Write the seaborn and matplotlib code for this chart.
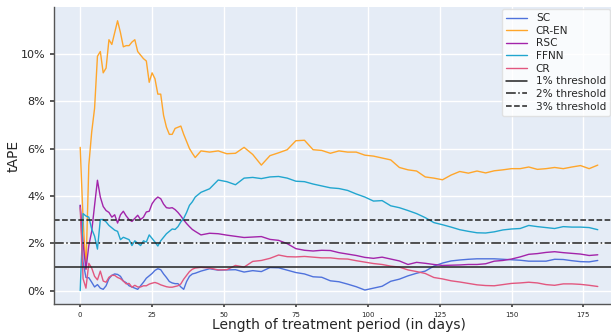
import numpy as np
import pandas as pd
import matplotlib
matplotlib.use("Agg")
import matplotlib.pyplot as plt
import seaborn as sns
from matplotlib.ticker import PercentFormatter

days = list(range(0, 41)) + list(range(42, 181, 3))

sc = [3.6, 1.2, 0.55, 0.54, 0.35, 0.15, 0.25, 0.1, 0.05, 0.2,
      0.5, 0.64, 0.7, 0.68, 0.6, 0.4, 0.33, 0.2, 0.15, 0.1,
      0.05, 0.2, 0.35, 0.52, 0.62, 0.72, 0.85, 0.92, 0.88, 0.7,
      0.55, 0.38, 0.32, 0.29, 0.29, 0.15, 0.05, 0.38, 0.6, 0.7, 0.73,
      0.82, 0.92, 0.86, 0.87, 0.88, 0.78, 0.84, 0.8, 0.97, 0.96,
      0.86, 0.76, 0.7, 0.58, 0.56, 0.41, 0.37, 0.27, 0.16, 0.02,
      0.1, 0.18, 0.39, 0.48, 0.62, 0.73, 0.82, 1.03, 1.16, 1.25,
      1.29, 1.32, 1.34, 1.34, 1.34, 1.32, 1.3, 1.28, 1.24, 1.24,
      1.24, 1.32, 1.31, 1.26, 1.22, 1.21, 1.27]

cr_en = [6.05, 3.0, 0.9, 5.3, 6.7, 7.7, 9.9, 10.1, 9.2, 9.4,
         10.6, 10.4, 10.9, 11.4, 10.9, 10.3, 10.35, 10.35, 10.5, 10.6,
         10.1, 9.95, 9.8, 9.7, 8.8, 9.2, 8.95, 8.3, 8.3, 7.4,
         6.9, 6.6, 6.6, 6.85, 6.9, 6.95, 6.6, 6.3, 6.0, 5.8, 5.62,
         5.9, 5.85, 5.9, 5.78, 5.8, 6.05, 5.75, 5.3, 5.7, 5.82,
         5.95, 6.33, 6.35, 5.95, 5.92, 5.8, 5.9, 5.85, 5.85, 5.72,
         5.68, 5.6, 5.52, 5.2, 5.1, 5.05, 4.8, 4.75, 4.68, 4.88,
         5.03, 4.96, 5.05, 4.97, 5.06, 5.1, 5.15, 5.15, 5.22, 5.12,
         5.15, 5.2, 5.15, 5.22, 5.28, 5.15, 5.3]

rsc = [3.6, 2.0, 0.9, 1.9, 2.5, 3.6, 4.66, 3.95, 3.55, 3.38,
       3.3, 3.1, 3.2, 2.85, 3.2, 3.35, 3.15, 3.0, 2.92, 3.05,
       3.18, 3.0, 3.1, 3.32, 3.35, 3.67, 3.84, 3.95, 3.88, 3.65,
       3.5, 3.48, 3.5, 3.42, 3.3, 3.15, 2.98, 2.83, 2.7, 2.58, 2.5,
       2.35, 2.42, 2.4, 2.34, 2.29, 2.24, 2.26, 2.28, 2.16, 2.12,
       1.98, 1.77, 1.7, 1.67, 1.7, 1.69, 1.6, 1.54, 1.48, 1.4,
       1.36, 1.41, 1.33, 1.25, 1.1, 1.19, 1.15, 1.1, 1.06, 1.07,
       1.08, 1.1, 1.1, 1.13, 1.24, 1.27, 1.33, 1.42, 1.53, 1.56,
       1.61, 1.64, 1.6, 1.57, 1.54, 1.48, 1.51]

ffnn = [0.0, 3.25, 3.15, 3.1, 2.6, 2.3, 1.75, 3.0, 3.0, 2.9,
        2.75, 2.65, 2.55, 2.5, 2.15, 2.25, 2.2, 2.15, 1.9, 2.1,
        2.0, 1.9, 2.1, 2.05, 2.35, 2.2, 2.05, 1.88, 2.1, 2.25,
        2.4, 2.5, 2.6, 2.58, 2.7, 2.9, 3.05, 3.3, 3.6, 3.75, 3.95,
        4.15, 4.3, 4.67, 4.6, 4.47, 4.75, 4.78, 4.73, 4.8, 4.82,
        4.75, 4.62, 4.6, 4.5, 4.42, 4.34, 4.31, 4.23, 4.08, 3.95,
        3.78, 3.8, 3.58, 3.5, 3.38, 3.25, 3.08, 2.87, 2.78, 2.68,
        2.57, 2.5, 2.44, 2.43, 2.48, 2.56, 2.6, 2.62, 2.75, 2.7,
        2.66, 2.62, 2.7, 2.68, 2.68, 2.66, 2.57]

cr = [3.5, 0.5, 0.1, 1.15, 0.95, 0.6, 0.45, 0.82, 0.4, 0.35,
      0.56, 0.64, 0.64, 0.55, 0.5, 0.4, 0.28, 0.3, 0.14, 0.22,
      0.15, 0.15, 0.2, 0.2, 0.27, 0.31, 0.34, 0.3, 0.24, 0.2,
      0.16, 0.14, 0.14, 0.17, 0.2, 0.28, 0.48, 0.64, 0.8, 0.9, 0.95,
      0.98, 0.95, 0.87, 0.88, 1.06, 0.99, 1.23, 1.27, 1.36, 1.5,
      1.43, 1.42, 1.44, 1.41, 1.38, 1.38, 1.34, 1.33, 1.26, 1.2,
      1.14, 1.1, 1.03, 0.99, 0.87, 0.8, 0.72, 0.55, 0.49, 0.41,
      0.36, 0.3, 0.24, 0.21, 0.2, 0.25, 0.3, 0.32, 0.35, 0.32,
      0.25, 0.22, 0.28, 0.28, 0.26, 0.22, 0.17]

series_names = ["SC", "CR-EN", "RSC", "FFNN", "CR"]
series_values = [sc, cr_en, rsc, ffnn, cr]
colors = ["#4f72dc", "#ffa62b", "#a324aa", "#21a6cf", "#e2577f"]

thresholds = [1, 2, 3]
threshold_labels = ["1% threshold", "2% threshold", "3% threshold"]
threshold_styles = ["-", "-.", "--"]

xticks = [0, 25, 50, 75, 100, 125, 150, 175]
yticks = [0, 2, 4, 6, 8, 10]

df = pd.concat(
    [pd.DataFrame({"day": days, "tape": vals, "model": name})
     for name, vals in zip(series_names, series_values)],
    ignore_index=True)

sns.set_theme(style="darkgrid", rc={
    "axes.facecolor": "#E5ECF6",
    "grid.color": "white",
    "grid.linewidth": 1.0,
})
plt.rcParams["font.family"] = ["DejaVu Sans"]

fig = plt.figure(figsize=(6.11, 3.33), dpi=100)
ax = fig.add_axes([0.0889, 0.0871, 0.9318, 0.891])

sns.lineplot(data=df, x="day", y="tape", hue="model",
             hue_order=series_names, palette=colors, linewidth=1.0, ax=ax)

for t, lab, ls in zip(thresholds, threshold_labels, threshold_styles):
    ax.axhline(t, color="#222222", linestyle=ls, linewidth=1.1, label=lab)

ax.set_xticks(xticks)
ax.set_yticks(yticks)
ax.yaxis.set_major_formatter(PercentFormatter(xmax=100, decimals=0))
ax.tick_params(axis="x", labelsize=5, length=2, color="#444444", bottom=True)
ax.tick_params(axis="y", labelsize=8, length=3, color="#444444", left=True)
ax.set_xlabel("Length of treatment period (in days)", fontsize=10, labelpad=0)
ax.set_ylabel("tAPE", fontsize=10)
ax.yaxis.set_label_coords(-0.060, 0.5)

for s in ["top", "right"]:
    ax.spines[s].set_visible(False)
for s in ["left", "bottom"]:
    ax.spines[s].set_visible(True)
    ax.spines[s].set_color("#555555")
    ax.spines[s].set_linewidth(1.0)

handles, labels = ax.get_legend_handles_labels()
leg = ax.legend(handles, labels, loc="upper right", fontsize=7.6,
                labelspacing=0.25, frameon=True, facecolor="white",
                framealpha=0.8, edgecolor="#dddddd", borderaxespad=0,
                bbox_to_anchor=(0.999, 0.973), bbox_transform=fig.transFigure)

fig.savefig("out.png", dpi=100)
